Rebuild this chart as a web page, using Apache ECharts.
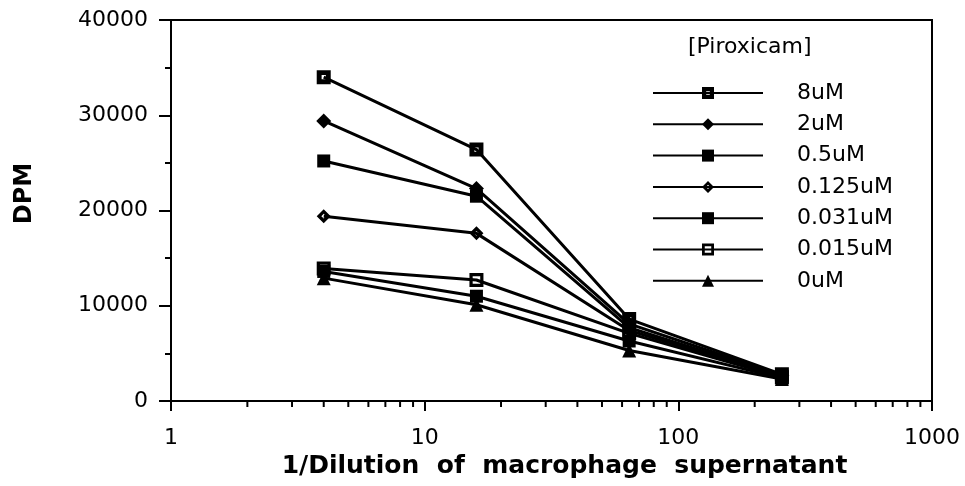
<!DOCTYPE html>
<html>
<head>
<meta charset="utf-8">
<script src="https://cdn.jsdelivr.net/npm/echarts@6/dist/echarts.min.js"></script>
<style>
html,body{margin:0;padding:0;background:#fff;}
#chart{width:965px;height:486px;}
</style>
</head>
<body>
<div id="chart"></div>
<script>
// ---- data ----
const dilutions = [4, 16, 64, 256];
const seriesNames = ['8uM', '2uM', '0.5uM', '0.125uM', '0.031uM', '0.015uM', '0uM'];
const v8uM    = [34000, 26400, 8600, 2800];
const v2uM    = [29400, 22300, 8100, 2700];
const v05uM   = [25200, 21500, 7700, 2600];
const v0125uM = [19400, 17600, 7400, 2600];
const v0031uM = [13600, 11000, 6300, 2400];
const v0015uM = [13900, 12700, 7100, 2500];
const v0uM    = [12900, 10100, 5300, 2300];
const yTicks = [0, 10000, 20000, 30000, 40000];
const xMajorTicks = [1, 10, 100, 1000];
const xMinorTicks = [2,3,4,5,6,7,8,9,20,30,40,50,60,70,80,90,200,300,400,500,600,700,800,900];

// ---- styles ----
const FONT = 'DejaVu Sans';
const symbols = {
  '8uM': 'path://M0,0H10V10H0Z M3.5,3.5V6.5H6.5V3.5Z',
  '2uM': 'diamond',
  '0.5uM': 'rect',
  '0.125uM': 'path://M5,0L10,5L5,10L0,5Z M5,3.3L3.3,5L5,6.7L6.7,5Z',
  '0.031uM': 'rect',
  '0.015uM': 'path://M0,0H10V10H0Z M2.3,2.3V7.7H7.7V2.3Z',
  '0uM': 'triangle'
};
const sizes = {'8uM':14,'2uM':15,'0.5uM':13,'0.125uM':14,'0.031uM':13,'0.015uM':14,'0uM':14};
const valueSets = [v8uM, v2uM, v05uM, v0125uM, v0031uM, v0015uM, v0uM];

const lineSeries = seriesNames.map((name, i) => ({
  name: name,
  type: 'line',
  data: dilutions.map((x, j) => [x, valueSets[i][j]]),
  symbol: symbols[name],
  symbolSize: sizes[name],
  showAllSymbol: true,
  itemStyle: {color: '#000'},
  lineStyle: {color: '#000', width: 3},
  emphasis: {disabled: true},
  z: 3
}));

const minorTickSeries = {
  type: 'custom',
  silent: true,
  clip: false,
  z: 5,
  data: xMinorTicks.map(v => [v, 0]),
  renderItem: function (params, api) {
    const p = api.coord([api.value(0), 0]);
    return {
      type: 'line',
      shape: {x1: p[0], y1: p[1], x2: p[0], y2: p[1] + 6},
      style: {stroke: '#000', lineWidth: 2}
    };
  }
};

const chart = echarts.init(document.getElementById('chart'));
chart.setOption({
  animation: false,
  backgroundColor: '#fff',
  title: {
    text: '[Piroxicam]',
    left: 688, top: 36, padding: 0,
    textStyle: {fontFamily: FONT, fontSize: 22, fontWeight: 'normal', color: '#000'}
  },
  legend: {
    orient: 'vertical',
    left: 652, top: 82,
    padding: 0,
    itemWidth: 110,
    itemHeight: 15,
    itemGap: 9.3,
    selectedMode: false,
    data: seriesNames,
    textStyle: {fontFamily: FONT, fontSize: 22, color: '#000', padding: [0, 0, 0, 29]}
  },
  grid: {
    left: 171, right: 33, top: 20, bottom: 85,
    show: true, borderColor: '#000', borderWidth: 2, backgroundColor: 'transparent'
  },
  xAxis: {
    type: 'log',
    logBase: 10,
    min: xMajorTicks[0],
    max: xMajorTicks[xMajorTicks.length - 1],
    name: '1/Dilution  of  macrophage  supernatant',
    nameLocation: 'middle',
    nameGap: 46,
    nameTextStyle: {fontFamily: FONT, fontSize: 25, fontWeight: 'bold', color: '#000', padding: [0, 0, 0, 26]},
    axisLine: {lineStyle: {color: '#000', width: 2}},
    axisTick: {show: true, length: 10, lineStyle: {color: '#000', width: 2}},
    axisLabel: {fontFamily: FONT, fontSize: 22, color: '#000', margin: 26, formatter: v => String(v)},
    splitLine: {show: false}
  },
  yAxis: {
    type: 'value',
    min: yTicks[0],
    max: yTicks[yTicks.length - 1],
    interval: 10000,
    name: 'DPM',
    nameLocation: 'middle',
    nameGap: 134,
    nameRotate: 90,
    nameTextStyle: {fontFamily: FONT, fontSize: 24, fontWeight: 'bold', color: '#000', padding: [0, 0, 0, 34]},
    axisLine: {show: true, lineStyle: {color: '#000', width: 2}},
    axisTick: {show: true, length: 12, lineStyle: {color: '#000', width: 2}},
    minorTick: {show: true, splitNumber: 2, length: 6, lineStyle: {color: '#000', width: 2}},
    axisLabel: {fontFamily: FONT, fontSize: 22, color: '#000', margin: 23, formatter: v => String(v)},
    splitLine: {show: false}
  },
  series: lineSeries.concat([minorTickSeries])
});
</script>
</body>
</html>
